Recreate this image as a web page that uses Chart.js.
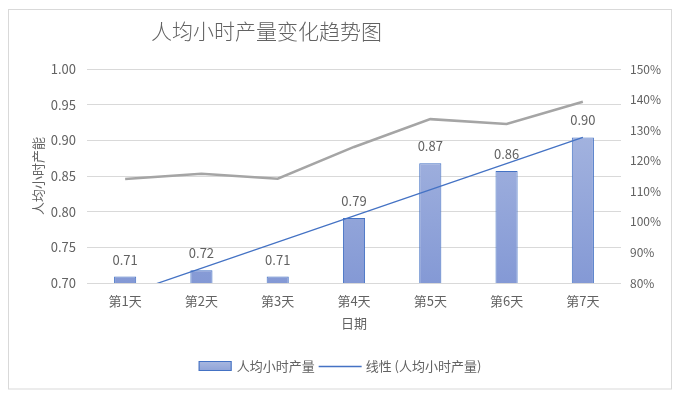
<!DOCTYPE html>
<html>
<head>
<meta charset="utf-8">
<script src="https://cdn.jsdelivr.net/npm/chart.js@4"></script>
<style>
  html, body { margin: 0; padding: 0; background: #fff; }
  canvas { display: block; }
</style>
</head>
<body>
<canvas id="chart" width="680" height="399"></canvas>
<script>
// --- data ---
const days = ['第1天', '第2天', '第3天', '第4天', '第5天', '第6天', '第7天'];
const hourlyOutput = [0.709, 0.718, 0.709, 0.791, 0.868, 0.857, 0.904];
const growthPct = [114.0, 115.7, 114.1, 124.5, 133.6, 132.0, 139.3];
// trendline values at first and last day (Excel linear trendline)
const trendEnds = [0.684, 0.904];

const chartTitle = '人均小时产量变化趋势图';
const barLabel = '人均小时产量';
const trendLabel = '线性 (人均小时产量)';

const FONT = '"Noto Sans CJK SC", "Noto Sans", sans-serif';
const TEXT = '#626262';
const GRID = '#d9d9d9';
const BLUE = '#4472C4';

Chart.defaults.font.family = FONT;
Chart.defaults.color = TEXT;

const trendData = days.map((d, i) => i === 0 ? trendEnds[0] : (i === days.length - 1 ? trendEnds[1] : null));

const frame = {
    id: 'frame',
    beforeDraw: (chart) => {
        const c = chart.ctx;
        c.save();
        c.fillStyle = '#fff';
        c.fillRect(0, 0, chart.width, chart.height);
        c.strokeStyle = GRID;
        c.lineWidth = 1;
        c.strokeRect(8.5, 9.5, 663, 379.5);
        c.restore();
    },
    afterDraw: (chart) => {
        const c = chart.ctx;
        c.save();
        // title, sits left of centre like the original
        c.font = '300 21px ' + FONT;
        c.fillStyle = TEXT;
        c.textBaseline = 'middle';
        c.textAlign = 'left';
        c.fillText(chartTitle, 151, 31);

        // legend (only bars + trendline)
        c.font = '13px ' + FONT;
        const w1 = c.measureText(barLabel).width;
        const w2 = c.measureText(trendLabel).width;
        const total = 33 + 5 + w1 + 4 + 43 + 4 + w2;
        let x = chart.width / 2 - total / 2;
        const y = 366;
        const g = c.createLinearGradient(0, y - 5, 0, y + 5);
        g.addColorStop(0, '#a9b8e0');
        g.addColorStop(1, '#8ea3d8');
        c.fillStyle = g;
        c.fillRect(x, y - 5, 33, 10);
        c.strokeStyle = BLUE;
        c.lineWidth = 1;
        c.strokeRect(x + 0.5, y - 4.5, 32, 9);
        x += 38;
        c.fillStyle = TEXT;
        c.fillText(barLabel, x, y);
        x += w1 + 4;
        c.beginPath();
        c.moveTo(x, y + 0.5);
        c.lineTo(x + 43, y + 0.5);
        c.lineWidth = 1.3;
        c.stroke();
        x += 47;
        c.fillText(trendLabel, x, y);
        c.restore();
    },
    afterDatasetsDraw: (chart) => {
        const c = chart.ctx;
        const meta = chart.getDatasetMeta(0);
        c.save();
        c.font = '13px ' + FONT;
        c.fillStyle = TEXT;
        c.textAlign = 'center';
        c.textBaseline = 'middle';
        meta.data.forEach((bar, i) => {
            c.fillText(hourlyOutput[i].toFixed(2), bar.x, bar.y - 17);
        });
        c.restore();
    }
};

new Chart(document.getElementById('chart'), {
    data: {
        labels: days,
        datasets: [
            {
                type: 'bar',
                label: barLabel,
                data: hourlyOutput,
                yAxisID: 'y',
                order: 3,
                borderColor: BLUE,
                borderWidth: 1,
                barPercentage: 0.29,
                categoryPercentage: 1,
                backgroundColor: (ctx) => {
                    const area = ctx.chart.chartArea;
                    if (!area) return '#9aaddd';
                    const g = ctx.chart.ctx.createLinearGradient(0, area.top, 0, area.bottom);
                    g.addColorStop(0, '#b0bee3');
                    g.addColorStop(1, '#8499d5');
                    return g;
                }
            },
            {
                type: 'line',
                label: trendLabel,
                data: trendData,
                yAxisID: 'y',
                order: 1,
                spanGaps: true,
                borderColor: BLUE,
                borderWidth: 1.3,
                pointRadius: 0,
                tension: 0
            },
            {
                type: 'line',
                label: '增长',
                data: growthPct,
                yAxisID: 'y1',
                order: 2,
                borderColor: '#a5a5a5',
                borderWidth: 2.5,
                pointRadius: 0,
                tension: 0
            }
        ]
    },
    options: {
        responsive: false,
        animation: false,
        devicePixelRatio: 1,
        layout: { padding: { top: 69, left: 10, right: 10, bottom: 64 } },
        plugins: {
            legend: { display: false },
            title: { display: false },
            tooltip: { enabled: false }
        },
        scales: {
            x: {
                grid: { display: false },
                border: { display: false },
                ticks: { color: TEXT, font: { size: 13 }, padding: 2, maxRotation: 0 },
                title: { display: true, text: '日期', color: TEXT, font: { size: 13 }, padding: { top: 0, bottom: 4 } },
                afterFit: (s) => { s.height = 52; }
            },
            y: {
                position: 'left',
                min: 0.7,
                max: 1.0,
                ticks: { stepSize: 0.05, color: TEXT, font: { size: 13 }, padding: 11, callback: (v) => v.toFixed(2) },
                grid: { color: GRID, drawTicks: false },
                border: { display: false },
                title: { display: true, text: '人均小时产能', color: TEXT, font: { size: 13 }, padding: { top: 20, bottom: 0 } },
                afterFit: (s) => { s.width = 77; }
            },
            y1: {
                position: 'right',
                min: 80,
                max: 150,
                ticks: { stepSize: 10, color: TEXT, font: { size: 12 }, padding: 9, callback: (v) => v + '%' },
                grid: { display: false, drawTicks: false },
                border: { display: false },
                afterFit: (s) => { s.width = 49; }
            }
        }
    },
    plugins: [frame]
});
</script>
</body>
</html>
